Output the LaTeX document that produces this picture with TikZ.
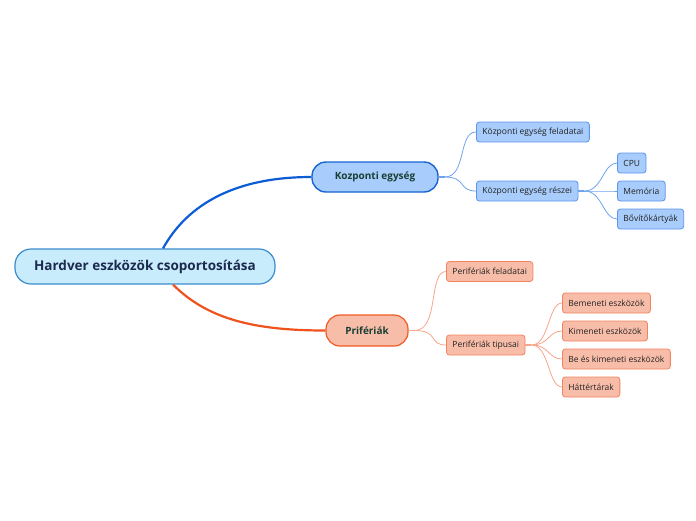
\documentclass[tikz,border=0pt]{standalone}
\usepackage{fontspec}
\setmainfont{Open Sans}
\definecolor{rootfill}{HTML}{C9ECFC}
\definecolor{rootdraw}{HTML}{3D8CCB}
\definecolor{roottext}{HTML}{1B2A4E}
\definecolor{bfill}{HTML}{A8CCFB}
\definecolor{bdraw}{HTML}{1765D4}
\definecolor{bline}{HTML}{0B5CD5}
\definecolor{blight}{HTML}{6FA3EE}
\definecolor{bsdraw}{HTML}{5C95EA}
\definecolor{ofill}{HTML}{F8BDA9}
\definecolor{odraw}{HTML}{F05A24}
\definecolor{oline}{HTML}{F0521E}
\definecolor{olight}{HTML}{F7A58B}
\definecolor{osdraw}{HTML}{F2845F}
\definecolor{lvltext}{HTML}{173F33}
\definecolor{smtext}{HTML}{222222}
\tikzset{
  rootbox/.style={draw=rootdraw, fill=rootfill, line width=1.2pt, rounded corners=16pt, minimum width=260pt, minimum height=35pt, text=roottext, font=\fontsize{13.5}{16}\selectfont\bfseries},
  bmain/.style={draw=bdraw, fill=bfill, line width=1.4pt, rounded corners=14pt, minimum width=126pt, minimum height=30pt, text=lvltext, font=\fontsize{10}{12}\selectfont\bfseries},
  omain/.style={draw=odraw, fill=ofill, line width=1.2pt, rounded corners=14pt, minimum width=82pt, minimum height=31pt, text=lvltext, font=\fontsize{10}{12}\selectfont\bfseries},
  bsmall/.style={draw=bsdraw, fill=bfill, line width=0.8pt, rounded corners=3pt, minimum height=20pt, inner xsep=6pt, text=smtext, font=\fontsize{8.5}{10}\selectfont, anchor=west},
  osmall/.style={draw=osdraw, fill=ofill, line width=0.8pt, rounded corners=3pt, minimum height=20pt, inner xsep=6pt, text=smtext, font=\fontsize{8.5}{10}\selectfont, anchor=west},
  bthick/.style={draw=bline, line width=2.2pt},
  othick/.style={draw=oline, line width=2.2pt},
  bthin/.style={draw=blight, line width=0.8pt},
  othin/.style={draw=olight, line width=0.8pt},
}
\begin{document}
\begin{tikzpicture}[x=1pt,y=-1pt]
\useasboundingbox (0,0) rectangle (696,520);
% nodes
\node[rootbox] (root) at (145,266.5) {Hardver eszközök csoportosítása};
\node[bmain] (kozp) at (375,177) {Kozponti egység};
\node[omain] (perif) at (367,330.5) {Prifériák};

\node[bsmall] (kfel) at (476,132) {Központi egység feladatai};
\node[bsmall] (kres) at (476,191) {Központi egység részei};
\node[bsmall] (cpu) at (617,163) {CPU};
\node[bsmall] (mem) at (617,191) {Memória};
\node[bsmall] (bov) at (617,219) {Bővítőkártyák};

\node[osmall] (pfel) at (446,271.5) {Perifériák feladatai};
\node[osmall] (ptip) at (446,345) {Perifériák tipusai};
\node[osmall] (bem) at (562,303) {Bemeneti eszközök};
\node[osmall] (kim) at (562,331) {Kimeneti eszközök};
\node[osmall] (beki) at (562,359) {Be és kimeneti eszközök};
\node[osmall] (hat) at (562,387) {Háttértárak};

% main connectors
\draw[bthick] ([xshift=18pt]root.north) .. controls +(25,-45) and +(-75,0) .. (kozp.west);
\draw[othick] ([xshift=28pt]root.south) .. controls +(35,35) and +(-70,0) .. (perif.west);

% blue children
\coordinate (kx) at ([xshift=6pt]kozp.east);
\draw[bthin, line width=1.4pt] (kozp.east) -- (kx);
\draw[bthin] (kx) .. controls +(22,0) and +(-18,0) .. (kfel.west);
\draw[bthin] (kx) .. controls +(22,0) and +(-18,0) .. (kres.west);
\coordinate (rx) at ([xshift=6pt]kres.east);
\draw[bthin, line width=1.6pt] (kres.east) -- (rx);
\draw[bthin] (rx) .. controls +(18,0) and +(-14,0) .. (cpu.west);
\draw[bthin] (rx) .. controls +(18,0) and +(-14,0) .. (mem.west);
\draw[bthin] (rx) .. controls +(18,0) and +(-14,0) .. (bov.west);

% orange children
\coordinate (px) at ([xshift=6pt]perif.east);
\draw[othin, line width=1.4pt] (perif.east) -- (px);
\draw[othin] (px) .. controls +(25,0) and +(-18,0) .. (pfel.west);
\draw[othin] (px) .. controls +(25,0) and +(-18,0) .. (ptip.west);
\coordinate (tx) at ([xshift=6pt]ptip.east);
\draw[othin, line width=1.6pt] (ptip.east) -- (tx);
\draw[othin] (tx) .. controls +(18,0) and +(-14,0) .. (bem.west);
\draw[othin] (tx) .. controls +(18,0) and +(-14,0) .. (kim.west);
\draw[othin] (tx) .. controls +(18,0) and +(-14,0) .. (beki.west);
\draw[othin] (tx) .. controls +(18,0) and +(-14,0) .. (hat.west);
\end{tikzpicture}
\end{document}
